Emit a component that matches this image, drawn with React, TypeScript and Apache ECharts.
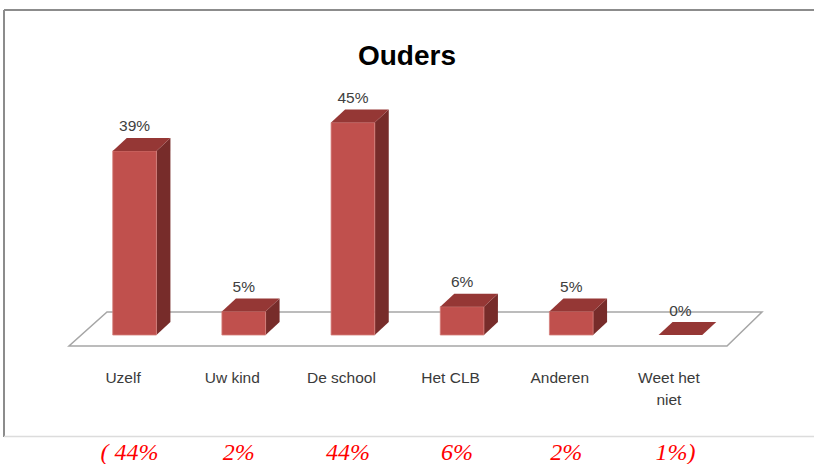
import React, { useEffect, useRef } from "react";
import * as echarts from "echarts";

const categories = ["Uzelf", "Uw kind", "De school", "Het CLB", "Anderen", "Weet het\nniet"];
const values = [39, 5, 45, 6, 5, 0];
const parentValues = [44, 2, 44, 6, 2, 1];
const titleText = "Ouders";

const SANS = "'Liberation Sans', Arial, sans-serif";

export default function App() {
  const ref = useRef<HTMLDivElement>(null);
  useEffect(() => {
    if (!ref.current) return;
    const chart = echarts.init(ref.current, null, { renderer: "svg" });
    const DX = 14;
    const DY = -13;
    const option: any = {
      animation: false,
      backgroundColor: "#ffffff",
      title: {
        text: titleText,
        left: "center",
        top: 33,
        textStyle: { fontFamily: SANS, fontSize: 28, fontWeight: "bold", color: "#000000", lineHeight: 34 },
      },
      grid: { left: 80, right: 79, top: 99, bottom: 129 },
      xAxis: {
        type: "category",
        data: categories,
        axisLine: { show: false },
        axisTick: { show: false },
        splitLine: { show: false },
        axisLabel: {
          interval: 0,
          margin: 31,
          color: "#3a3a3a",
          fontFamily: SANS,
          fontSize: 15.5,
          lineHeight: 22,
          padding: [0, 23, 0, 0],
        },
      },
      yAxis: { type: "value", min: 0, max: 50, show: false },
      graphic: [
        {
          type: "polygon",
          z: 0,
          shape: { points: [[69, 346], [727, 346], [762, 312], [107, 312]] },
          style: { fill: "#ffffff", stroke: "#a6a6a6", lineWidth: 1.5 },
        },
        { type: "line", z: 0, shape: { x1: 4, y1: 10, x2: 814, y2: 10 }, style: { stroke: "#8c8c8c", lineWidth: 2 } },
        { type: "line", z: 0, shape: { x1: 4, y1: 10, x2: 4, y2: 437 }, style: { stroke: "#8c8c8c", lineWidth: 2 } },
        { type: "line", z: 0, shape: { x1: 4, y1: 436.5, x2: 814, y2: 436.5 }, style: { stroke: "#dcdcdc", lineWidth: 1.5 } },
      ],
      series: [
        {
          type: "custom",
          z: 3,
          data: values.map((v, i) => [i, v]),
          encode: { x: 0, y: 1 },
          renderItem: (params: any, api: any) => {
            const idx = api.value(0);
            const v = api.value(1);
            const top = api.coord([idx, v]);
            const base = api.coord([idx, 0]);
            const bw = api.size([1, 0])[0] * 0.4;
            const x0 = top[0] - bw / 2;
            const x1 = top[0] + bw / 2;
            const ty = top[1];
            const by = base[1];
            const children: any[] = [];
            if (by - ty > 0.5) {
              children.push({
                type: "polygon",
                shape: { points: [[x1, ty], [x1 + DX, ty + DY], [x1 + DX, by + DY], [x1, by]] },
                style: { fill: "#772c2a" },
              });
              children.push({
                type: "rect",
                shape: { x: x0, y: ty, width: bw, height: by - ty },
                style: { fill: "#c0504d", stroke: "#d47d7a", lineWidth: 0.8 },
              });
            }
            children.push({
              type: "polygon",
              shape: { points: [[x0, ty], [x1, ty], [x1 + DX, ty + DY], [x0 + DX, ty + DY]] },
              style: { fill: "#953735" },
            });
            children.push({
              type: "text",
              style: {
                text: v + "%",
                x: top[0],
                y: ty + DY - 12,
                align: "center",
                verticalAlign: "middle",
                fill: "#404040",
                font: "15.5px " + SANS,
              },
            });
            return { type: "group", children };
          },
        },
        {
          type: "custom",
          z: 3,
          data: parentValues.map((v, i) => [i, v]),
          encode: { x: 0 },
          renderItem: (params: any, api: any) => {
            const idx = api.value(0);
            const v = api.value(1);
            const n = parentValues.length;
            const c = api.coord([idx, 0]);
            let txt = v + "%";
            if (idx === 0) txt = "( " + txt;
            if (idx === n - 1) txt = txt + ")";
            return {
              type: "text",
              style: {
                text: txt,
                x: c[0] - 5,
                y: 452,
                align: "center",
                verticalAlign: "middle",
                fill: "#ff0000",
                font: "italic 24px 'Liberation Serif', 'Times New Roman', serif",
              },
            };
          },
        },
      ],
    };
    chart.setOption(option);
    return () => chart.dispose();
  }, []);
  return (
    <div
      ref={ref}
      style={{ position: "fixed", left: 0, top: 0, width: 814, height: 464 }}
    />
  );
}
